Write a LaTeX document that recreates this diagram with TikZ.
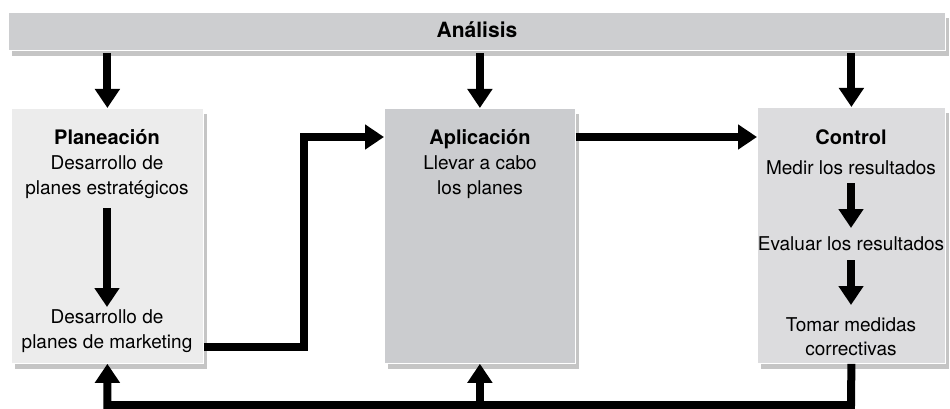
\documentclass[tikz,border=0pt]{standalone}
\usepackage{fontspec}
\setmainfont{TeX Gyre Heros}
\usetikzlibrary{arrows.meta,shadows}
\definecolor{barfill}{HTML}{CDCED0}
\definecolor{planfill}{HTML}{ECECEC}
\definecolor{aplfill}{HTML}{CBCCCF}
\definecolor{ctlfill}{HTML}{DCDCDE}
\tikzset{
  box/.style={draw=white, line width=0.8pt, inner sep=0pt, anchor=north west,
    drop shadow={shadow xshift=4pt, shadow yshift=-6pt, fill=black!45, opacity=0.5}},
  txt/.style={font=\fontsize{19}{25}\selectfont, anchor=base, inner sep=0pt},
  ttl/.style={txt, font=\fontsize{20}{25}\selectfont\bfseries},
  arr/.style={line width=8pt, line join=miter, -{Triangle[width=24pt,length=19pt]}},
}
\begin{document}
\begin{tikzpicture}[x=1pt,y=-1pt]
\useasboundingbox (0,0) rectangle (950,409);
% boxes
\node[box, fill=barfill, minimum width=937pt, minimum height=38pt] (ana) at (8,12) {};
\node[ttl, font=\fontsize{21}{25}\selectfont\bfseries] (anat) at (477,38) {Análisis};
\node[box, fill=planfill, minimum width=192pt, minimum height=255pt] (plan) at (11,108) {};
\node[box, fill=aplfill, minimum width=191pt, minimum height=255pt] (apl) at (384,108) {};
\node[box, fill=ctlfill, minimum width=188pt, minimum height=256pt] (ctl) at (757,107) {};
% texts planeacion
\node[ttl] (p0) at (107,144) {Planeación};
\node[txt] (p1) at (107,169) {Desarrollo de};
\node[txt] (p2) at (107,194) {planes estratégicos};
\node[txt] (p3) at (107,323) {Desarrollo de};
\node[txt] (p4) at (107,348) {planes de marketing};
% texts aplicacion
\node[ttl] (a0) at (480,144) {Aplicación};
\node[txt] (a1) at (480,169) {Llevar a cabo};
\node[txt] (a2) at (480,194) {los planes};
% texts control
\node[ttl] (c0) at (851,144) {Control};
\node[txt] (c1) at (851,174) {Medir los resultados};
\node[txt] (c2) at (851,250) {Evaluar los resultados};
\node[txt] (c3) at (851,331) {Tomar medidas};
\node[txt] (c4) at (851,355) {correctivas};
% coordinates
\coordinate (row) at (0,137);
\coordinate (mk) at (304,347);
\coordinate (fb) at (851,405);
% arrows from analysis
\draw[arr] (ana.south -| plan.north) ++(0,2) -- (plan.north);
\draw[arr] (ana.south -| apl.north) ++(0,2) -- (apl.north);
\draw[arr] (ana.south -| ctl.north) ++(0,2) -- (ctl.north);
% inner arrows
\draw[arr] (107,208) -- (107,307);
\draw[arr] (851,183) -- (851,228);
\draw[arr] (851,260) -- (851,305);
% marketing to aplicacion
\draw[arr] (plan.east |- mk) -- (mk) |- (apl.west |- row);
% aplicacion to control
\draw[arr] (apl.east |- row) -- (ctl.west |- row);
% feedback
\draw[arr] (ctl.south) -- (fb) -| (plan.south);
\draw[arr] (apl.south |- fb) -- (apl.south);
\end{tikzpicture}
\end{document}
